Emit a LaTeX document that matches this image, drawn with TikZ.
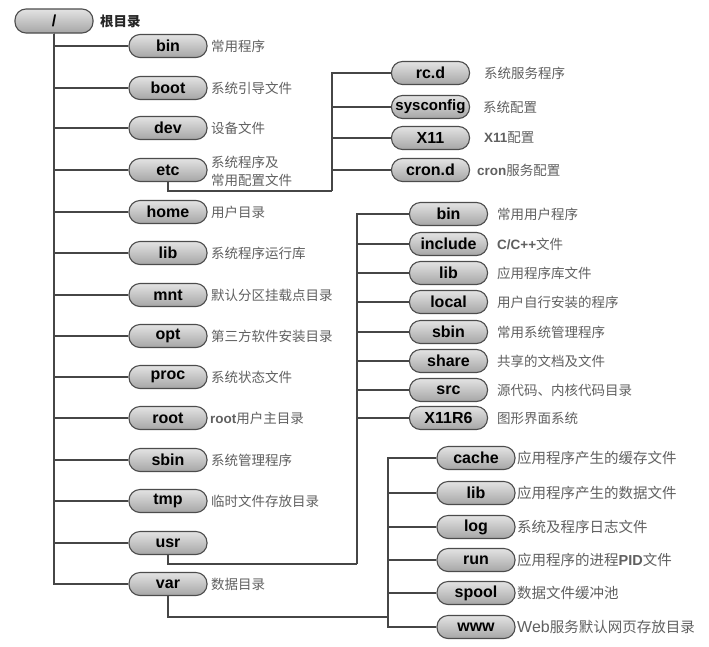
\documentclass[tikz,border=0pt]{standalone}
\usepackage{fontspec}
\setmainfont{Liberation Sans}
\newfontfamily\cjk{Noto Sans CJK SC}
\newcommand\lat[1]{{\normalfont\bfseries #1}}
\tikzset{
  dir/.style={rounded corners=11pt, minimum width=78pt, minimum height=23pt, inner sep=0pt,
    draw=gray!60!black, line width=1.1pt, top color=gray!22, bottom color=gray!70,
    font=\normalfont\bfseries\fontsize{16}{16}\selectfont},
  lbl/.style={anchor=west, inner sep=0pt, text=gray!75!black, font=\cjk\fontsize{13.5}{18}\selectfont},
  lblv/.style={lbl, font=\cjk\fontsize{14.5}{18}\selectfont},
  conn/.style={draw=gray!55!black, line width=1.3pt}
}
\begin{document}
\begin{tikzpicture}[x=1pt,y=-1pt]
\path[use as bounding box, fill=white] (0,0) rectangle (709,646);
% root
\node[dir, minimum height=24pt] (root) at (54,21) {/};
\node[lbl, text=black!85] (rootl) at (100,21) {\bfseries 根目录};
% main column
\foreach \n/\t/\y in {bin/bin/46, boot/boot/88, dev/dev/128, etc/etc/170, home/home/212,
  lib/lib/253, mnt/mnt/295, opt/opt/336, proc/proc/377, rootd/root/418, sbin/sbin/460,
  tmp/tmp/501, usr/usr/543, var/var/584}
  {\node[dir] (\n) at (168,\y) {\t};
   \draw[conn] (root.south) |- (\n.west);}
\node[lbl] (binl) at (211,46) {常用程序};
\node[lbl] (bootl) at (211,88) {系统引导文件};
\node[lbl] (devl) at (211,128) {设备文件};
\node[lbl, align=left] (etcl) at (211,171) {系统程序及\\常用配置文件};
\node[lbl] (homel) at (211,212) {用户目录};
\node[lbl] (libl) at (211,253) {系统程序运行库};
\node[lbl] (mntl) at (211,295) {默认分区挂载点目录};
\node[lbl] (optl) at (211,336) {第三方软件安装目录};
\node[lbl] (procl) at (211,377) {系统状态文件};
\node[lbl] (rootdl) at (210,418) {\lat{root}用户主目录};
\node[lbl] (sbinl) at (211,460) {系统管理程序};
\node[lbl] (tmpl) at (211,501) {临时文件存放目录};
\node[lbl] (varl) at (211,584) {数据目录};
% etc children
\coordinate (etcj) at (332,191);
\draw[conn] (etc.south) |- (etcj);
\foreach \n/\t/\y in {rcd/rc.d/73, sysconfig/{\fontsize{15}{15}\selectfont sysconfig}/107, xeleven/X11/138, crond/cron.d/170}
  {\node[dir] (\n) at (430.5,\y) {\t};
   \draw[conn] (etcj) |- (\n.west);}
\node[lbl] (rcdl) at (484,73) {系统服务程序};
\node[lbl] (sysconfigl) at (483,107) {系统配置};
\node[lbl] (xelevenl) at (484,138) {\lat{X11}配置};
\node[lbl] (crondl) at (477,170) {\lat{cron}服务配置};
% usr children
\coordinate (usrj) at (357,564);
\draw[conn] (usr.south) |- (usrj);
\foreach \n/\t/\y in {ubin/bin/214, uinclude/include/244, ulib/lib/273, ulocal/local/302,
  usbin/sbin/332, ushare/share/361, usrc/src/390, ux/X11R6/418}
  {\node[dir] (\n) at (448.5,\y) {\t};
   \draw[conn] (usrj) |- (\n.west);}
\node[lbl] (ubinl) at (497,214) {常用用户程序};
\node[lbl] (uincludel) at (497,244) {\lat{C/C++}文件};
\node[lbl] (ulibl) at (497,273) {应用程序库文件};
\node[lbl] (ulocall) at (497,302) {用户自行安装的程序};
\node[lbl] (usbinl) at (497,332) {常用系统管理程序};
\node[lbl] (usharel) at (497,361) {共享的文档及文件};
\node[lbl] (usrcl) at (497,390) {源代码、内核代码目录};
\node[lbl] (uxl) at (497,418) {图形界面系统};
% var children
\coordinate (varj) at (388,617);
\draw[conn] (var.south) |- (varj);
\foreach \n/\t/\y in {vcache/cache/458, vlib/lib/493, vlog/log/527, vrun/run/560,
  vspool/spool/593, vwww/www/627}
  {\node[dir] (\n) at (476,\y) {\t};
   \draw[conn] (varj) |- (\n.west);}
\node[lblv] (vcachel) at (517,458) {应用程序产生的缓存文件};
\node[lblv] (vlibl) at (517,493) {应用程序产生的数据文件};
\node[lblv] (vlogl) at (517,527) {系统及程序日志文件};
\node[lblv] (vrunl) at (517,560) {应用程序的进程\lat{PID}文件};
\node[lblv] (vspooll) at (517,593) {数据文件缓冲池};
\node[lblv] (vwwwl) at (517,627) {{\normalfont\fontsize{16}{18}\selectfont Web}服务默认网页存放目录};
\end{tikzpicture}
\end{document}
